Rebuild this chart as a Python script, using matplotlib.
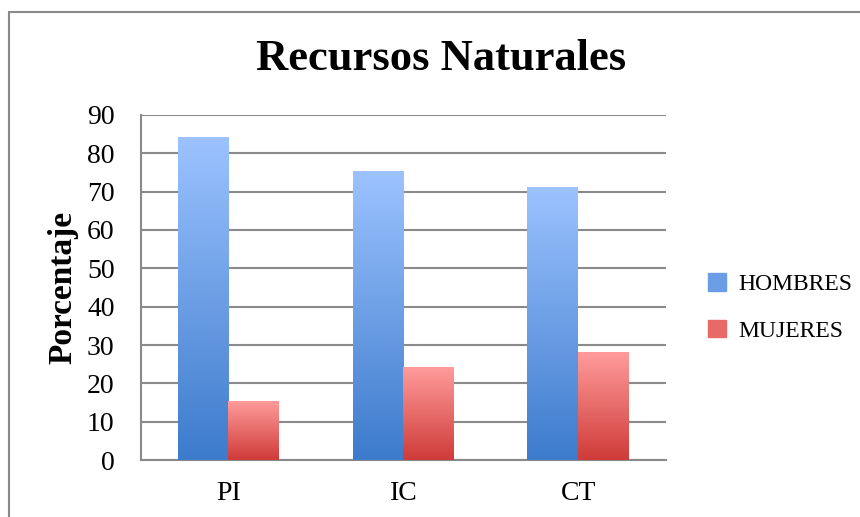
import numpy as np
import matplotlib.pyplot as plt
from matplotlib.colors import LinearSegmentedColormap
from matplotlib.patches import Rectangle

# Datos
categorias = ['PI', 'IC', 'CT']
hombres = [84.2, 75.4, 71.3]
mujeres = [15.4, 24.3, 28.2]

serif = ['Liberation Serif', 'DejaVu Serif']
plt.rcParams['font.family'] = serif

fig = plt.figure(figsize=(8.6, 5.17), dpi=100)
ax = fig.add_axes([0.164, 0.110, 0.610, 0.668])

# Borde del gráfico (estilo Excel)
fig.patches.append(Rectangle((0.0105, -0.05), 1.2, 1.027, transform=fig.transFigure,
                             fill=False, edgecolor='#8a8a8a', linewidth=1.5))

x = np.arange(len(categorias))
w = 0.29
cmap_azul = LinearSegmentedColormap.from_list('azul', ['#3d7bcc', '#9cc3ff'])
cmap_rojo = LinearSegmentedColormap.from_list('rojo', ['#cf3b38', '#ff9d9c'])
grad = np.linspace(0, 1, 256).reshape(-1, 1)

def barras_gradiente(pos, valores, cmap):
    bars = ax.bar(pos, valores, width=w, color='none', edgecolor='none', zorder=3)
    for b in bars:
        im = ax.imshow(grad, cmap=cmap, aspect='auto', origin='lower',
                       extent=[b.get_x(), b.get_x() + b.get_width(), 0, b.get_height()],
                       zorder=3)
        im.set_clip_path(b)
    return bars

barras_gradiente(x - w / 2, hombres, cmap_azul)
barras_gradiente(x + w / 2, mujeres, cmap_rojo)

ax.set_xlim(-0.5, 2.5)
ax.set_ylim(0, 90)
ax.set_yticks(range(0, 91, 10))
ax.set_xticks(x)
ax.set_xticklabels(categorias)
ax.tick_params(length=0, labelsize=20, pad=15)
ax.tick_params(axis='y', pad=19)
ax.grid(axis='y', color='#8a8a8a', linewidth=1.5, zorder=0)
ax.set_axisbelow(True)
for s in ['top', 'right']:
    ax.spines[s].set_visible(False)
for s in ['left', 'bottom']:
    ax.spines[s].set_color('#8a8a8a')
    ax.spines[s].set_linewidth(1.5)

ax.set_ylabel('Porcentaje', fontsize=24, fontweight='bold', labelpad=6)
fig.text(0.513, 0.885, 'Recursos Naturales', ha='center', va='center',
         fontsize=32, fontweight='bold')

# Leyenda
leg_h = [Rectangle((0, 0), 1, 1, color='#6a9de6'), Rectangle((0, 0), 1, 1, color='#e86a68')]
fig.legend(leg_h, ['HOMBRES', 'MUJERES'], loc='center left', bbox_to_anchor=(0.799, 0.405),
           frameon=False, fontsize=17, handlelength=0.75, handleheight=0.75,
           handletextpad=0.5, labelspacing=1.05)

fig.savefig('out.png', dpi=100)
